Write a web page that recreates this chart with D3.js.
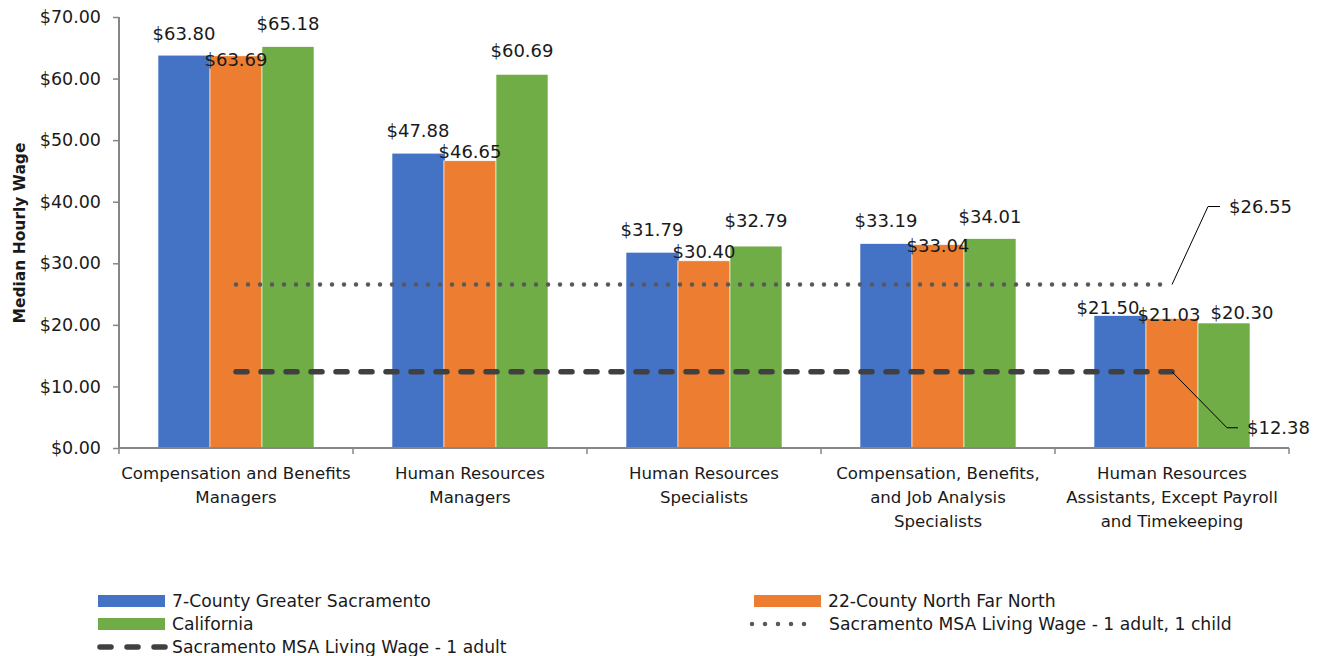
<!DOCTYPE html>
<html>
<head>
<meta charset="utf-8">
<script src="https://cdn.jsdelivr.net/npm/d3@7"></script>
<style>
  body { margin: 0; background: #fff; }
  text { font-family: "DejaVu Sans", sans-serif; fill: #1a1a1a; }
</style>
</head>
<body>
<div id="chart-area"></div>
<script>
// data
var categories = [
  "Compensation and Benefits Managers",
  "Human Resources Managers",
  "Human Resources Specialists",
  "Compensation, Benefits, and Job Analysis Specialists",
  "Human Resources Assistants, Except Payroll and Timekeeping"
];
var categoryLines = [
  ["Compensation and Benefits", "Managers"],
  ["Human Resources", "Managers"],
  ["Human Resources", "Specialists"],
  ["Compensation, Benefits,", "and Job Analysis", "Specialists"],
  ["Human Resources", "Assistants, Except Payroll", "and Timekeeping"]
];
var seriesNames = ["7-County Greater Sacramento", "22-County North Far North", "California"];
var sacramento = [63.80, 47.88, 31.79, 33.19, 21.50];
var northFarNorth = [63.69, 46.65, 30.40, 33.04, 21.03];
var california = [65.18, 60.69, 32.79, 34.01, 20.30];
var livingWageAdultChild = [26.55, 26.55, 26.55, 26.55, 26.55];
var livingWageAdult = [12.38, 12.38, 12.38, 12.38, 12.38];
var lineNames = ["Sacramento MSA Living Wage - 1 adult, 1 child", "Sacramento MSA Living Wage - 1 adult"];
var yTicks = [0, 10, 20, 30, 40, 50, 60, 70];

var colors = ["#4472C4", "#ED7D31", "#70AD47"];
var seriesValues = [sacramento, northFarNorth, california];

// label nudges relative to bar top centre, per series / per category
var labelDy = [
  [-15, -16, -16, -17, -2],
  [10, -3, -3, 7, 2],
  [-17, -17, -19, -16, -4]
];
var labelDx = [
  [0, 0, 0, 0, -12],
  [0, 0, 0, 0, -3],
  [0, 0, 0, 0, 18]
];

var W = 1322, H = 656;
var margin = { left: 119, top: 17, right: 33, bottom: 208 };
var width = 1289 - margin.left;
var height = 448 - margin.top;

var svg = d3.select("#chart-area").append("svg")
  .attr("width", W).attr("height", H);

var g = svg.append("g")
  .attr("transform", "translate(" + margin.left + "," + margin.top + ")");

var x = d3.scaleBand().domain(categories).range([0, width]).paddingInner(0).paddingOuter(0);
var x1 = d3.scaleBand().domain(d3.range(3)).range([39, x.bandwidth() - 39]);
var y = d3.scaleLinear().domain([0, 70]).range([height, 0]);

// y axis
var yAxis = g.append("g")
  .call(d3.axisLeft(y).tickValues(yTicks).tickSize(6).tickPadding(12)
    .tickFormat(function(d) { return "$" + d.toFixed(2); }));
yAxis.select(".domain").attr("stroke", "#868686").attr("stroke-width", 2).attr("d", "M0,0V" + height);
yAxis.selectAll(".tick line").attr("stroke", "#868686").attr("stroke-width", 1.5);
yAxis.selectAll(".tick text").attr("font-size", 17.5).attr("fill", "#1a1a1a")
  .attr("font-family", "DejaVu Sans, sans-serif");

// y label
g.append("text")
  .attr("transform", "rotate(-90)")
  .attr("x", -(233 - margin.top))
  .attr("y", 19 - margin.left + 5.5)
  .attr("text-anchor", "middle")
  .attr("font-size", 15.5)
  .attr("font-weight", "bold")
  .text("Median Hourly Wage");

// bars
var groups = g.selectAll(".grp").data(categories).enter().append("g")
  .attr("class", "grp")
  .attr("transform", function(d) { return "translate(" + x(d) + ",0)"; });

groups.each(function(cat, ci) {
  var gg = d3.select(this);
  seriesValues.forEach(function(vals, si) {
    gg.append("rect")
      .attr("x", x1(si))
      .attr("y", y(vals[ci]))
      .attr("width", x1.bandwidth())
      .attr("height", height - y(vals[ci]))
      .attr("fill", colors[si])
      .attr("stroke", "#ffffff")
      .attr("stroke-width", 0.6);
  });
});

// x axis
var xAxisG = g.append("g").attr("transform", "translate(0," + height + ")");
xAxisG.append("line").attr("x1", 0).attr("x2", width).attr("stroke", "#868686").attr("stroke-width", 2);
xAxisG.selectAll(".xt").data(d3.range(categories.length + 1)).enter().append("line")
  .attr("x1", function(i) { return i * x.bandwidth(); })
  .attr("x2", function(i) { return i * x.bandwidth(); })
  .attr("y1", 0).attr("y2", 6)
  .attr("stroke", "#868686").attr("stroke-width", 1.5);

xAxisG.selectAll(".xl").data(categories).enter().append("text")
  .attr("text-anchor", "middle")
  .attr("font-size", 16.6)
  .attr("transform", function(d) { return "translate(" + (x(d) + x.bandwidth() / 2) + ",31)"; })
  .each(function(d, i) {
    var t = d3.select(this);
    categoryLines[i].forEach(function(line, li) {
      t.append("tspan").attr("x", 0).attr("y", li * 24).text(line);
    });
  });

// living wage lines
var cx = function(d, i) { return x(categories[i]) + x.bandwidth() / 2; };
var line = d3.line().x(cx).y(function(d) { return y(d); });

g.append("path").datum(livingWageAdultChild)
  .attr("d", line).attr("fill", "none")
  .attr("stroke", "#595959").attr("stroke-width", 4.5)
  .attr("stroke-linecap", "round").attr("stroke-dasharray", "0,12");

g.append("path").datum(livingWageAdult)
  .attr("d", line).attr("fill", "none")
  .attr("stroke", "#404040").attr("stroke-width", 5.5)
  .attr("stroke-linecap", "round").attr("stroke-dasharray", "11,14");

// data labels
groups.each(function(cat, ci) {
  var gg = d3.select(this);
  seriesValues.forEach(function(vals, si) {
    gg.append("text")
      .attr("x", x1(si) + x1.bandwidth() / 2 + labelDx[si][ci])
      .attr("y", y(vals[ci]) + labelDy[si][ci])
      .attr("text-anchor", "middle")
      .attr("font-size", 18)
      .attr("fill", "#000")
      .text("$" + vals[ci].toFixed(2));
  });
});

// leader labels for living wage lines
var lastX = cx(null, categories.length - 1);
var yA = y(livingWageAdultChild[4]);
var yB = y(livingWageAdult[4]);
g.append("polyline")
  .attr("points", [[lastX, yA], [lastX + 36, yA - 78], [lastX + 48, yA - 78]].join(" "))
  .attr("fill", "none").attr("stroke", "#000").attr("stroke-width", 1);
g.append("text")
  .attr("x", lastX + 57).attr("y", yA - 78).attr("dy", "0.35em")
  .attr("font-size", 18).attr("fill", "#000")
  .text("$" + livingWageAdultChild[4].toFixed(2));
g.append("polyline")
  .attr("points", [[lastX, yB], [lastX + 55, yB + 56], [lastX + 66, yB + 56]].join(" "))
  .attr("fill", "none").attr("stroke", "#000").attr("stroke-width", 1);
g.append("text")
  .attr("x", lastX + 75).attr("y", yB + 56).attr("dy", "0.35em")
  .attr("font-size", 18).attr("fill", "#000")
  .text("$" + livingWageAdult[4].toFixed(2));

// legend
var legend = svg.append("g");
var legItems = [
  { name: seriesNames[0], type: "rect", color: colors[0], x: 98, y: 601 },
  { name: seriesNames[1], type: "rect", color: colors[1], x: 754, y: 601 },
  { name: seriesNames[2], type: "rect", color: colors[2], x: 98, y: 624 },
  { name: lineNames[0], type: "dot", color: "#595959", x: 752, y: 624 },
  { name: lineNames[1], type: "dash", color: "#404040", x: 98, y: 647 }
];
legItems.forEach(function(it) {
  if (it.type === "rect") {
    legend.append("rect").attr("x", it.x).attr("y", it.y - 6)
      .attr("width", 67).attr("height", 12).attr("fill", it.color);
  } else if (it.type === "dot") {
    legend.append("line").attr("x1", it.x).attr("x2", it.x + 65)
      .attr("y1", it.y).attr("y2", it.y)
      .attr("stroke", it.color).attr("stroke-width", 4.5)
      .attr("stroke-linecap", "round").attr("stroke-dasharray", "0,13");
  } else {
    legend.append("line").attr("x1", it.x + 2).attr("x2", it.x + 67)
      .attr("y1", it.y).attr("y2", it.y)
      .attr("stroke", it.color).attr("stroke-width", 5.5)
      .attr("stroke-linecap", "round").attr("stroke-dasharray", "11,16");
  }
  legend.append("text")
    .attr("x", it.type === "dot" ? it.x + 77 : it.x + 74).attr("y", it.y).attr("dy", "0.35em")
    .attr("font-size", 17.2)
    .text(it.name);
});
</script>
</body>
</html>
